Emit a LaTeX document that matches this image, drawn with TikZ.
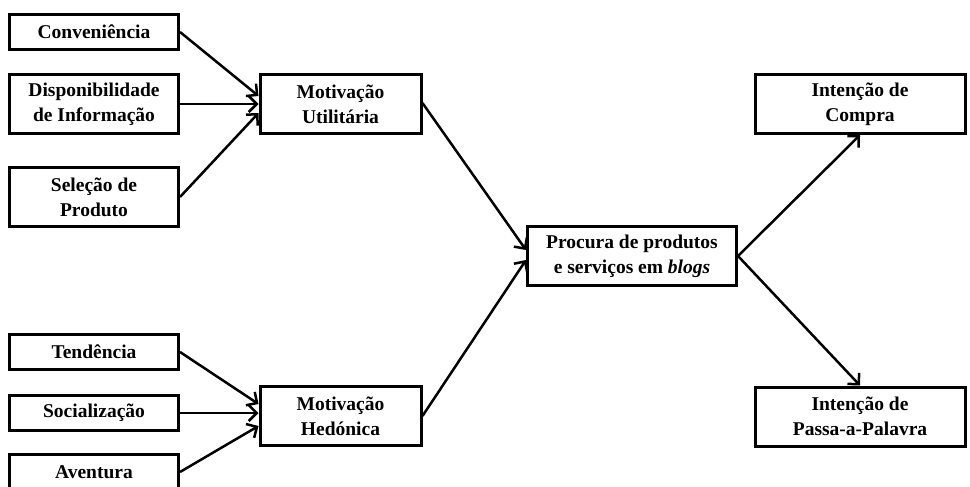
\documentclass[tikz,border=0pt]{standalone}
\usepackage{fontspec}
\setmainfont{Liberation Serif}
\usetikzlibrary{arrows.meta}

\begin{document}
\begin{tikzpicture}[%
    x=1pt, y=-1pt,              % One unit is one pixel of the layout, y goes down
    >={Straight Barb[length=8pt,width=16pt]}, % Open arrow heads
    font=\fontsize{19.5}{25}\selectfont\bfseries,
    ]
% -------------------------------------------------
% A few box styles
\tikzset{
  base/.style={draw, line width=3pt, align=center, inner sep=0pt},
  fator/.style={base, minimum width=169pt, minimum height=35pt},
  fator2/.style={base, minimum width=169pt, minimum height=59pt},
  motiv/.style={base, minimum width=161pt, minimum height=59pt},
  procura/.style={base, minimum width=209pt, minimum height=59pt},
  intencao/.style={base, minimum width=210pt, minimum height=59pt},
  % Connector line style
  seta/.style={->, line width=2.5pt, black},
}
\useasboundingbox (0,0) rectangle (970,487);
% -------------------------------------------------
% Start by placing the nodes
\node [fator]  (conv)   at (94,32)  {Conveniência};
\node [fator2] (disp)   at (94,104) {Disponibilidade\\de Informação};
\node [fator2] (sel)    at (94,197) {Seleção de\\Produto};
\node [fator]  (tend)   at (94,352) {Tendência};
\node [fator]  (soc)    at (94,413) {Socialização};
\node [fator]  (avent)  at (94,472) {Aventura};

\node [motiv] (util) at (340.5,104) {Motivação\\Utilitária};
\node [motiv] (hed)  at (340.5,416) {Motivação\\Hedónica};

\node [procura] (proc) at (632,256) {Procura de produtos\\e serviços em \textit{blogs}};

\node [intencao] (compra) at (860,104)   {Intenção de\\Compra};
\node [intencao] (passa)  at (860,416.5) {Intenção de\\Passa-a-Palavra};

% Utilitarian side (yshift is on the page: positive goes up)
\draw[seta] (conv.east) to ([yshift=8pt]util.west);
\draw[seta] (disp.east) to (util.west);
\draw[seta] (sel.east)  to ([yshift=-9pt]util.west);
% Hedonic side
\draw[seta] (tend.east)  to ([yshift=12pt]hed.west);
\draw[seta] (soc.east)   to (soc.east -| hed.west);
\draw[seta] (avent.east) to ([yshift=-10pt]hed.west);
% Towards the search and the intentions
\draw[seta] ([yshift=1pt]util.east) to ([yshift=6pt]proc.west);
\draw[seta] (hed.east) to ([yshift=-4pt]proc.west);
\draw[seta] (proc.east) to (compra.south);
\draw[seta] (proc.east) to (passa.north);

% -------------------------------------------------
\end{tikzpicture}
\end{document}
